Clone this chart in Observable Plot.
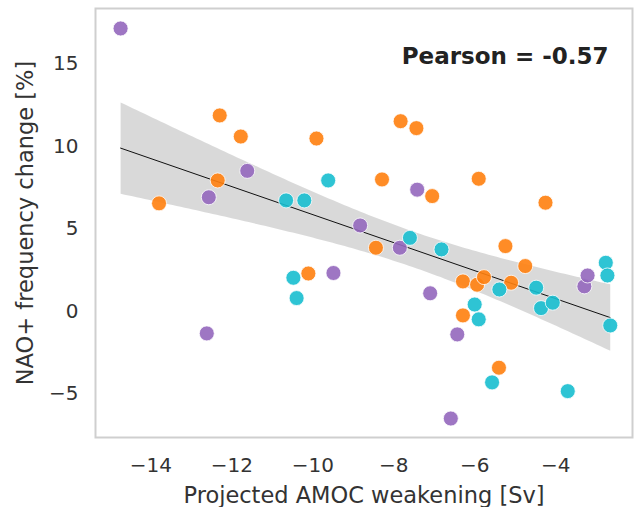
<!DOCTYPE html>
<html>
<head>
<meta charset="utf-8">
<script src="https://cdn.jsdelivr.net/npm/d3@7"></script>
<script src="https://cdn.jsdelivr.net/npm/@observablehq/plot@0.6"></script>
<style>
  html, body { margin: 0; padding: 0; background: #fff; }
  #chart { width: 634px; height: 507px; }
</style>
</head>
<body>
<div id="chart"></div>
<script>
const groups = ["A", "B", "C"];
const colors = ["#9467bd", "#ff7f0e", "#17becf"];

const purpleX = [-14.75, -12.62, -12.57, -11.62, -9.49, -8.83, -7.85, -7.42, -7.10, -6.43, -6.59, -3.29, -3.21];
const purpleY = [17.15, -1.33, 6.92, 8.52, 2.33, 5.21, 3.86, 7.38, 1.10, -1.39, -6.49, 1.52, 2.18];

const orangeX = [-13.80, -12.30, -12.35, -11.78, -9.91, -10.11, -8.44, -8.29, -7.83, -7.44, -7.05, -6.29, -5.94, -5.77, -5.10, -5.24, -4.75, -5.90, -4.25, -6.29, -5.40];
const orangeY = [6.55, 11.88, 7.94, 10.60, 10.48, 2.30, 3.86, 8.00, 11.53, 11.11, 6.99, 1.82, 1.62, 2.08, 1.74, 3.96, 2.75, 8.04, 6.59, -0.24, -3.41];

const cyanX = [-10.66, -10.21, -9.62, -10.48, -10.40, -7.60, -6.82, -5.39, -4.48, -4.36, -4.07, -6.00, -5.90, -5.57, -3.70, -2.76, -2.72, -2.65];
const cyanY = [6.73, 6.73, 7.94, 2.04, 0.81, 4.46, 3.76, 1.33, 1.44, 0.20, 0.53, 0.42, -0.48, -4.30, -4.83, 2.95, 2.18, -0.85];

const xTicks = [-14, -12, -10, -8, -6, -4];
const yTicks = [-5, 0, 5, 10, 15];
const pearsonLabel = "Pearson = -0.57";

const series = [[purpleX, purpleY], [orangeX, orangeY], [cyanX, cyanY]];
const data = [];
series.forEach(([xs, ys], i) => xs.forEach((x, j) => data.push({x, y: ys[j], g: groups[i]})));

const chart = Plot.plot({
  width: 634,
  height: 507,
  marginLeft: 95,
  marginRight: 2,
  marginTop: 8,
  marginBottom: 70,
  style: {fontFamily: "DejaVu Sans", fontSize: "20px", color: "#333", background: "#fff"},
  x: {domain: [-15.37, -2.1], ticks: xTicks, tickSize: 0, tickPadding: 20, label: "Projected AMOC weakening [Sv]", labelAnchor: "center", labelOffset: 65, labelArrow: "none"},
  y: {domain: [-7.64, 18.36], ticks: yTicks, tickSize: 0, tickPadding: 17, label: "NAO+ frequency change [%]", labelAnchor: "center", labelOffset: 78, labelArrow: "none"},
  color: {domain: groups, range: colors},
  marks: [
    Plot.linearRegressionY(data, {x: "x", y: "y", ci: 0.95, stroke: "#111", strokeWidth: 1, fill: "#000", fillOpacity: 0.15}),
    Plot.dot(data, {x: "x", y: "y", fill: "g", r: 7.5, stroke: "#fff", strokeWidth: 0.8, fillOpacity: 0.9}),
    Plot.text([pearsonLabel], {text: d => d, frameAnchor: "top-right", dx: -24, dy: 39, fontWeight: "bold", fontSize: 23, fill: "#222"}),
    Plot.frame({stroke: "#cfcfcf", strokeWidth: 2})
  ]
});
chart.querySelectorAll("[aria-label='x-axis label'], [aria-label='y-axis label']").forEach(el => {
  el.setAttribute("font-size", "22.5");
  el.querySelectorAll("text").forEach(t => t.setAttribute("font-size", "22.5"));
});
document.getElementById("chart").appendChild(chart);
</script>
</body>
</html>
